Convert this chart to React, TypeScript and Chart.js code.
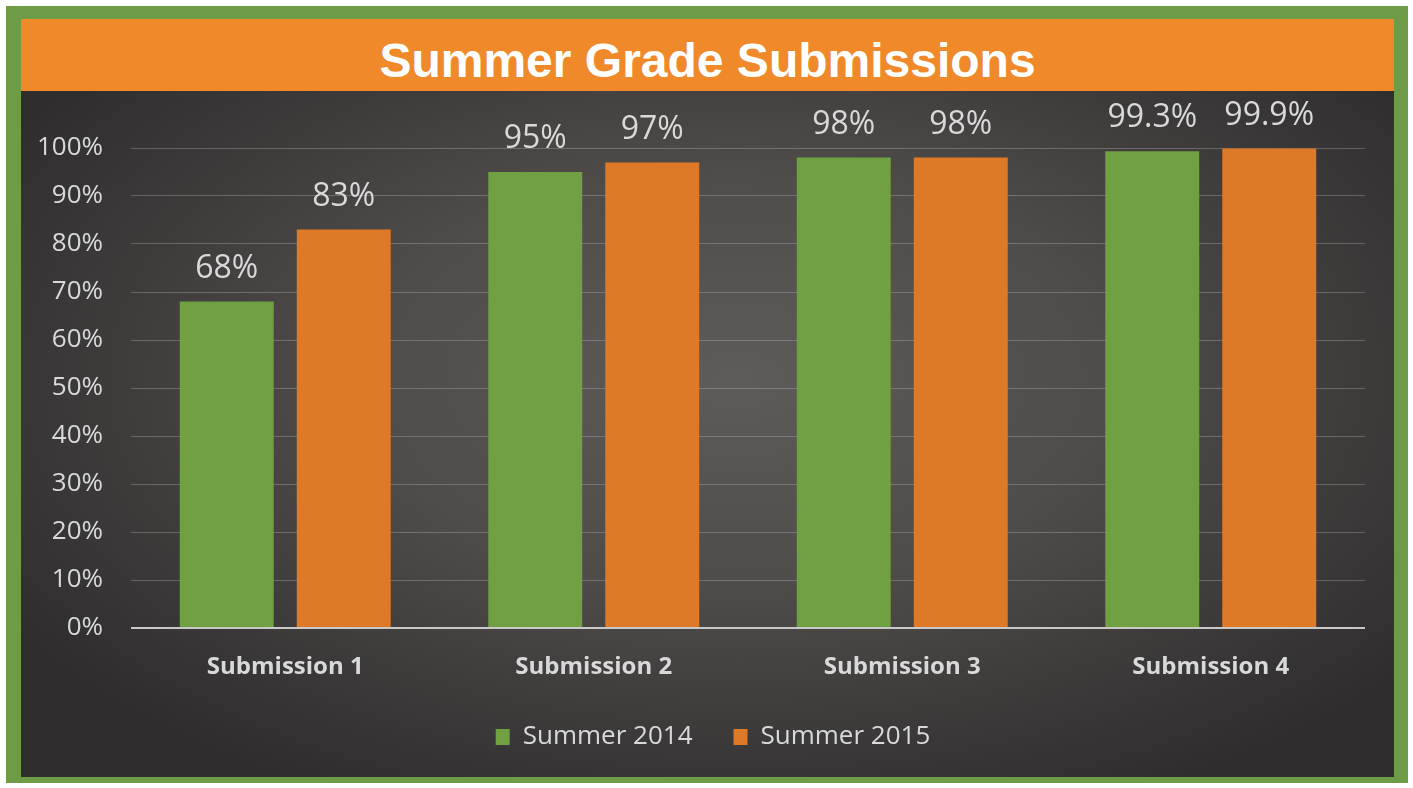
import React, { useEffect, useRef } from "react";
import { Chart, registerables } from "chart.js";

Chart.register(...registerables);

const titleText = "Summer Grade Submissions";
const categories = ["Submission 1", "Submission 2", "Submission 3", "Submission 4"];
const seriesNames = ["Summer 2014", "Summer 2015"];
const summer2014 = [68, 95, 98, 99.3];
const summer2015 = [83, 97, 98, 99.9];
const yMin = 0;
const yMax = 100;
const yStep = 10;

const GREEN = "#70A042";
const ORANGE = "#DE7A27";
const TEXT = "#D9D9D9";
const FONT = "'Open Sans', 'DejaVu Sans', sans-serif";

const dataLabelPlugin = {
  id: "dataLabels",
  afterDatasetsDraw(chart: any) {
    const ctx = chart.ctx;
    ctx.save();
    ctx.font = `32px ${FONT}`;
    ctx.fillStyle = TEXT;
    ctx.textAlign = "center";
    ctx.textBaseline = "middle";
    chart.data.datasets.forEach((ds: any, i: number) => {
      const meta = chart.getDatasetMeta(i);
      meta.data.forEach((el: any, j: number) => {
        ctx.fillText(`${ds.data[j]}%`, el.x, el.y - 33);
      });
    });
    ctx.restore();
  },
};

// shift the legend block sideways so it sits where the original legend sits
const legendShiftPlugin = {
  id: "legendShift",
  afterLayout(chart: any) {
    const lg = chart.legend;
    if (lg) {
      lg.left += 20;
      lg.right += 20;
    }
  },
};

function BarChart() {
  const ref = useRef<HTMLCanvasElement | null>(null);
  useEffect(() => {
    if (!ref.current) return;
    const chart = new Chart(ref.current, {
      type: "bar",
      data: {
        labels: categories,
        datasets: [
          {
            label: seriesNames[0],
            data: summer2014,
            backgroundColor: GREEN,
            borderWidth: 0,
            categoryPercentage: 0.7585,
            barPercentage: 0.803,
          },
          {
            label: seriesNames[1],
            data: summer2015,
            backgroundColor: ORANGE,
            borderWidth: 0,
            categoryPercentage: 0.7585,
            barPercentage: 0.803,
          },
        ],
      },
      options: {
        animation: false,
        responsive: false,
        maintainAspectRatio: false,
        layout: { padding: { left: 0, right: 29, top: 57, bottom: 17 } },
        plugins: {
          legend: {
            position: "bottom",
            labels: {
              color: TEXT,
              font: { family: FONT, size: 26 },
              boxWidth: 14,
              boxHeight: 16,
              padding: 41,
            },
          },
          tooltip: { enabled: false },
          title: { display: false },
        },
        scales: {
          x: {
            grid: { display: false },
            border: { display: false },
            ticks: {
              color: TEXT,
              font: { family: FONT, size: 24, weight: "bold" },
              padding: 17,
            },
            afterFit(s: any) {
              s.height = 55;
            },
          },
          y: {
            min: yMin,
            max: yMax,
            ticks: {
              stepSize: yStep,
              color: TEXT,
              font: { family: FONT, size: 26 },
              padding: 28,
              callback: (v: any) => `${v}%`,
            },
            grid: {
              drawTicks: false,
              color: (c: any) => (c.tick && c.tick.value === 0 ? "#C8C8C8" : "rgba(217,217,217,0.28)"),
              lineWidth: (c: any) => (c.tick && c.tick.value === 0 ? 2 : 1),
            },
            border: { display: false },
            afterFit(s: any) {
              s.width = 110;
            },
          },
        },
      },
      plugins: [dataLabelPlugin, legendShiftPlugin],
    } as any);
    return () => chart.destroy();
  }, []);
  return (
    <canvas
      ref={ref}
      width={1373}
      height={686}
      style={{ position: "absolute", left: 21, top: 91, width: 1373, height: 686 }}
    />
  );
}

export default function App() {
  return (
    <div style={{ position: "absolute", left: 0, top: 0, width: 1413, height: 788, background: "#ffffff" }}>
      <div
        style={{
          position: "absolute",
          left: 6,
          top: 6,
          width: 1402,
          height: 777,
          background: "#6E9B45",
        }}
      />
      <div
        style={{
          position: "absolute",
          left: 21,
          top: 91,
          width: 1373,
          height: 686,
          background:
            "radial-gradient(ellipse 62% 68% at 52% 42%, #5f5b59 0%, #4e4b49 45%, #2f2d2e 100%)",
        }}
      />
      <div
        style={{
          position: "absolute",
          left: 21,
          top: 19,
          width: 1373,
          height: 72,
          background: "#F0892A",
        }}
      >
        <div
          style={{
            position: "absolute",
            left: 0,
            top: 0,
            width: "100%",
            lineHeight: "84px",
            textAlign: "center",
            color: "#ffffff",
            fontFamily: "'Liberation Sans', Arial, sans-serif",
            fontWeight: "bold",
            fontSize: 48,
            whiteSpace: "nowrap",
          }}
        >
          {titleText}
        </div>
      </div>
      <BarChart />
    </div>
  );
}
